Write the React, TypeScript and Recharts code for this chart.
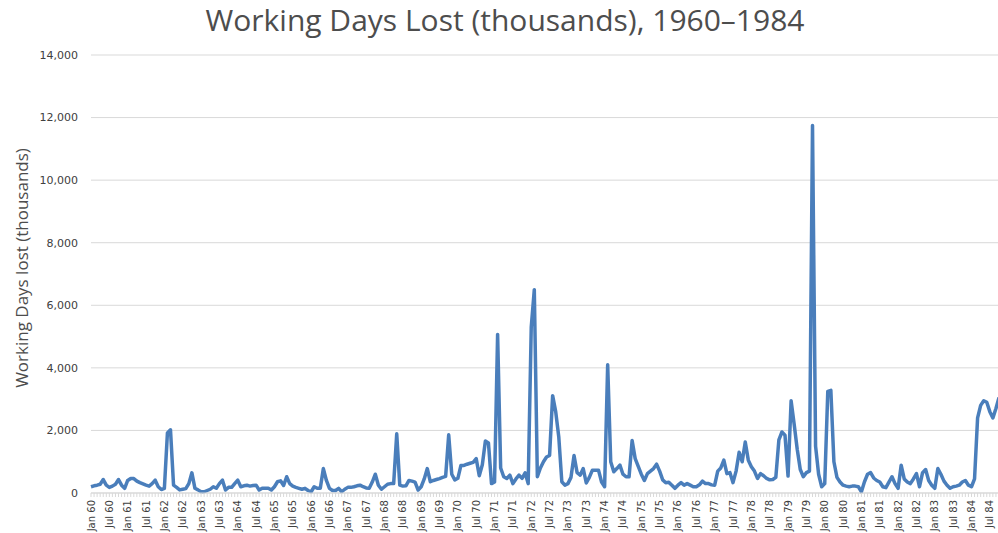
import React from 'react';
import { LineChart, Line, XAxis, YAxis, CartesianGrid } from 'recharts';

// monthly working days lost (thousands), Jan 1960 onwards
const monthNames = ['Jan', 'Feb', 'Mar', 'Apr', 'May', 'Jun', 'Jul', 'Aug', 'Sep', 'Oct', 'Nov', 'Dec'];
const years = ['60', '61', '62', '63', '64', '65', '66', '67', '68', '69', '70', '71', '72',
  '73', '74', '75', '76', '77', '78', '79', '80', '81', '82', '83', '84'];

const daysLost: number[] = [
  /* 1960 */ 200, 230, 250, 280, 430, 250, 180, 220, 280, 430, 250, 150,
  /* 1961 */ 400, 465, 460, 380, 330, 290, 250, 220, 300, 410, 200, 110,
  /* 1962 */ 150, 1920, 2020, 250, 180, 100, 120, 140, 300, 645, 150, 100,
  /* 1963 */ 40, 40, 80, 120, 200, 150, 300, 410, 95, 180, 180, 300,
  /* 1964 */ 410, 200, 230, 250, 220, 240, 250, 95, 150, 150, 150, 95,
  /* 1965 */ 200, 360, 390, 240, 520, 300, 220, 180, 150, 120, 150, 80,
  /* 1966 */ 40, 200, 150, 150, 780, 400, 150, 80, 80, 150, 40, 120,
  /* 1967 */ 180, 180, 200, 230, 250, 200, 160, 150, 350, 600, 250, 120,
  /* 1968 */ 200, 280, 300, 300, 1890, 250, 220, 230, 400, 380, 350, 95,
  /* 1969 */ 200, 450, 780, 360, 400, 430, 460, 500, 530, 1860, 600, 420,
  /* 1970 */ 470, 880, 880, 920, 950, 980, 1100, 550, 900, 1660, 1600, 300,
  /* 1971 */ 350, 5070, 800, 520, 465, 570, 300, 450, 570, 470, 645, 300,
  /* 1972 */ 5300, 6500, 520, 800, 1000, 1150, 1200, 3110, 2600, 1800, 360, 250,
  /* 1973 */ 300, 500, 1200, 650, 570, 780, 320, 500, 730, 730, 730, 350,
  /* 1974 */ 200, 4100, 1000, 680, 780, 890, 600, 520, 520, 1680, 1100, 850,
  /* 1975 */ 600, 400, 620, 700, 780, 920, 700, 420, 330, 340, 250, 150,
  /* 1976 */ 250, 330, 250, 300, 250, 200, 200, 260, 380, 300, 300, 260,
  /* 1977 */ 250, 700, 800, 1050, 620, 650, 330, 700, 1300, 1000, 1630, 1050,
  /* 1978 */ 840, 700, 465, 620, 550, 465, 420, 430, 500, 1700, 1950, 1850,
  /* 1979 */ 540, 2950, 2200, 1400, 750, 520, 650, 700, 11750, 1500, 600, 200,
  /* 1980 */ 300, 3250, 3280, 1000, 500, 350, 250, 220, 200, 220, 220, 200,
  /* 1981 */ 40, 360, 600, 650, 480, 400, 350, 200, 170, 350, 520, 300,
  /* 1982 */ 150, 890, 450, 350, 300, 450, 620, 200, 650, 750, 400, 250,
  /* 1983 */ 150, 780, 600, 380, 250, 150, 200, 220, 250, 350, 400, 250,
  /* 1984 */ 200, 450, 2400, 2800, 2950, 2900, 2600, 2400, 2700, 3050,
];

const yTicks = [0, 2000, 4000, 6000, 8000, 10000, 12000, 14000];

const data = daysLost.map((v, i) => ({
  month: `${monthNames[i % 12]} ${years[Math.floor(i / 12)]}`,
  value: v,
}));

const MonthTick = (props: any) => {
  const { x, y, payload } = props;
  const label = String(payload.value);
  if (!label.startsWith('Jan') && !label.startsWith('Jul')) return <g />;
  return (
    <text
      x={x}
      y={y}
      dy={3.5}
      transform={`rotate(-90 ${x} ${y})`}
      textAnchor="end"
      fontSize={10}
      fill="#404040"
      fontFamily="DejaVu Sans"
    >
      {label}
    </text>
  );
};

export default function App() {
  return (
    <div
      style={{
        position: 'absolute',
        left: 0,
        top: 0,
        width: 998,
        height: 533,
        overflow: 'hidden',
        background: '#fff',
      }}
    >
      <div
        style={{
          position: 'absolute',
          left: 0,
          top: -1,
          width: 1010,
          textAlign: 'center',
          fontFamily: '"Open Sans", sans-serif',
          fontSize: 30,
          color: '#4d4d4d',
          whiteSpace: 'nowrap',
        }}
      >
        Working Days Lost (thousands), 1960–1984
      </div>
      <div
        style={{
          position: 'absolute',
          left: 21,
          top: 268,
          transform: 'translate(-50%, -50%) rotate(-90deg)',
          fontFamily: '"Open Sans", sans-serif',
          fontSize: 17,
          color: '#4d4d4d',
          whiteSpace: 'nowrap',
        }}
      >
        Working Days lost (thousands)
      </div>
      <LineChart width={1000} height={533} data={data} margin={{ top: 55, right: 1, bottom: 0, left: 1 }}>
        <CartesianGrid vertical={false} stroke="#d9d9d9" />
        <XAxis
          dataKey="month"
          interval={0}
          height={40}
          tick={<MonthTick />}
          tickSize={4}
          tickMargin={3}
          stroke="#d9d9d9"
          tickLine={{ stroke: '#d9d9d9' }}
        />
        <YAxis
          domain={[0, 14000]}
          ticks={yTicks}
          width={90}
          axisLine={false}
          tickLine={false}
          tickSize={0}
          tickMargin={13}
          tickFormatter={(v: number) => v.toLocaleString('en-US')}
          tick={{ fontSize: 11, fill: '#404040', fontFamily: 'DejaVu Sans' }}
        />
        <Line
          type="linear"
          dataKey="value"
          stroke="#4a7ebb"
          strokeWidth={3.5}
          dot={false}
          strokeLinejoin="round"
          isAnimationActive={false}
        />
      </LineChart>
    </div>
  );
}
